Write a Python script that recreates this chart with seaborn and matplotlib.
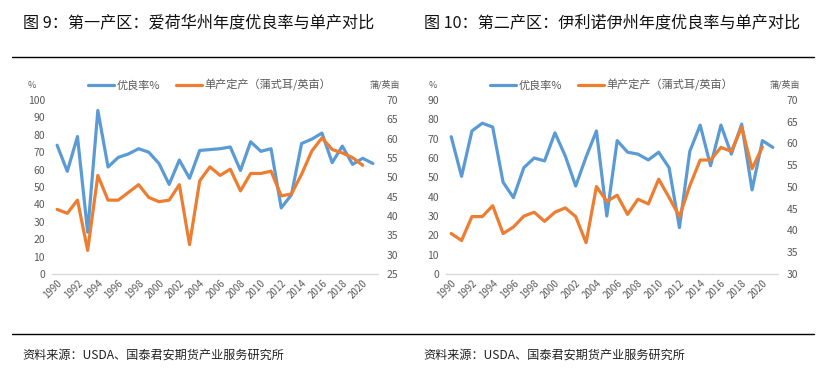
import numpy as np
import pandas as pd
import matplotlib
matplotlib.use("Agg")
import matplotlib.pyplot as plt
from matplotlib.lines import Line2D
import seaborn as sns

sns.set_theme(style="white")
plt.rcParams['font.family'] = ['Noto Sans CJK SC', 'DejaVu Sans']
plt.rcParams['axes.unicode_minus'] = False

years = list(range(1990, 2022))
years_yield = list(range(1990, 2021))

# Panel 1: Iowa
iowa_rating = [74, 59, 79, 24, 94, 61.5, 67, 69, 72, 70, 63.5, 51.5, 65.5, 55, 71, 71.5,
               72, 73, 59.5, 76, 70.5, 72, 38, 45.5, 75, 77.5, 81, 64, 73.5, 63, 66.5, 63.5]
iowa_yield = [41.7, 40.7, 44.1, 31.1, 50.5, 44.1, 44.1, 46.1, 48.1, 44.8, 43.7, 44.1, 48.1, 32.6, 49.1, 52.7,
              50.5, 52.1, 46.5, 51.0, 51.0, 51.6, 45.2, 45.7, 50.8, 56.8, 60.2, 57.2, 56.3, 55.1, 53.1]

# Panel 2: Illinois
ill_rating = [71, 50.5, 74, 78, 76, 47.5, 39.5, 55, 60, 58.5, 73, 61, 45.5, 60.5, 74, 30,
              69, 63, 62, 59, 63, 55, 24, 63.5, 77, 56, 77, 62, 77.5, 43.5, 69, 65.5]
ill_yield = [39.3, 37.7, 43.2, 43.2, 45.7, 39.3, 40.8, 43.3, 44.2, 42.1, 44.2, 45.2, 43.2, 37.2, 50.1, 46.7,
             48.1, 43.7, 47.2, 46.1, 51.8, 47.6, 43.2, 50.3, 56.2, 56.2, 59.1, 58.2, 63.8, 54.2, 59.2]

titles = ["图 9：第一产区：爱荷华州年度优良率与单产对比",
          "图 10：第二产区：伊利诺伊州年度优良率与单产对比"]
label_rating = "优良率%"
label_yield = "单产定产（蒲式耳/英亩）"
unit_left = "%"
unit_right = "蒲/英亩"
source = "资料来源：USDA、国泰君安期货产业服务研究所"

BLUE = "#5B9BD5"
ORANGE = "#ED7D31"
GRAY = "#595959"
W, H = 822, 380

fig = plt.figure(figsize=(W / 100, H / 100), dpi=100)

panels = [
    dict(rating=iowa_rating, yld=iowa_yield, x0=52, x1=378, ylim1=(0, 100), yt1=np.arange(0, 101, 10),
         ylim2=(25, 70), yt2=np.arange(25, 71, 5), title_x=23, unit_l_x=32, unit_r_x=400,
         leg_x=88),
    dict(rating=ill_rating, yld=ill_yield, x0=446, x1=778, ylim1=(0, 90), yt1=np.arange(0, 91, 10),
         ylim2=(30, 70), yt2=np.arange(30, 71, 5), title_x=424, unit_l_x=433, unit_r_x=800,
         leg_x=490),
]

top_px, bot_px = 100, 274
for i, p in enumerate(panels):
    ax = fig.add_axes([p["x0"] / W, 1 - bot_px / H, (p["x1"] - p["x0"]) / W, (bot_px - top_px) / H])
    ax2 = ax.twinx()
    df1 = pd.DataFrame({"year": years, "v": p["rating"]})
    df2 = pd.DataFrame({"year": years_yield, "v": p["yld"]})
    sns.lineplot(data=df1, x="year", y="v", ax=ax, color=BLUE, linewidth=2.3, legend=False)
    sns.lineplot(data=df2, x="year", y="v", ax=ax2, color=ORANGE, linewidth=2.3, legend=False)
    ax.set_xlim(1989.5, 2021.5)
    ax.set_ylim(*p["ylim1"])
    ax2.set_ylim(*p["ylim2"])
    ax.set_yticks(p["yt1"])
    ax2.set_yticks(p["yt2"])
    ax.set_xlabel("")
    ax.set_ylabel("")
    ax2.set_ylabel("")
    for a in (ax, ax2):
        for s in ("top", "left", "right", "bottom"):
            a.spines[s].set_visible(False)
    ax.spines["bottom"].set_visible(True)
    ax.spines["bottom"].set_color("#D9D9D9")
    ax.spines["bottom"].set_linewidth(1.0)
    ax.tick_params(axis="y", length=0, labelsize=7.5, labelcolor=GRAY, pad=5)
    ax2.tick_params(axis="y", length=0, labelsize=7.5, labelcolor=GRAY, pad=6)
    ax.set_xticks(list(range(1990, 2021, 2)))
    ax.set_xticklabels([str(y) for y in range(1990, 2021, 2)], rotation=45, ha="right",
                       rotation_mode="anchor", fontsize=7, color=GRAY)
    ax.tick_params(axis="x", which="major", length=0, pad=3)
    ax.set_xticks(np.arange(1989.5, 2022, 1.0), minor=True)
    ax.tick_params(axis="x", which="minor", length=3, direction="in", color="#D9D9D9", width=0.8)
    ax.grid(False)
    ax2.grid(False)

    # titles and units
    fig.text(p["title_x"] / W, 1 - 23 / H, titles[i], fontsize=11.6, ha="left", va="center",
             color="#111111")
    fig.text(p["unit_l_x"] / W, 1 - 85 / H, unit_left, fontsize=6.5, ha="center", va="center", color=GRAY)
    fig.text(p["unit_r_x"] / W, 1 - 85 / H, unit_right, fontsize=6.5, ha="right", va="center", color=GRAY)
    handles = [Line2D([0], [0], color=BLUE, lw=2.3), Line2D([0], [0], color=ORANGE, lw=2.3)]
    fig.legend(handles, [label_rating, label_yield], loc="center left",
               bbox_to_anchor=(p["leg_x"] / W, 1 - 85 / H), ncol=2, frameon=False,
               fontsize=8, handlelength=2.3, handletextpad=0.3, columnspacing=1.4,
               borderaxespad=0, borderpad=0, labelcolor=GRAY)
    fig.text((p["title_x"] - 1) / W, 1 - 355 / H, source, fontsize=8.7, ha="left", va="center",
             color="#222222")

# separator lines
fig.add_artist(Line2D([12 / W, 814 / W], [1 - 57 / H, 1 - 57 / H], color="black", lw=1.0))
fig.add_artist(Line2D([12 / W, 814 / W], [1 - 334 / H, 1 - 334 / H], color="black", lw=1.0))

fig.savefig("out.png", dpi=100, facecolor="white")
